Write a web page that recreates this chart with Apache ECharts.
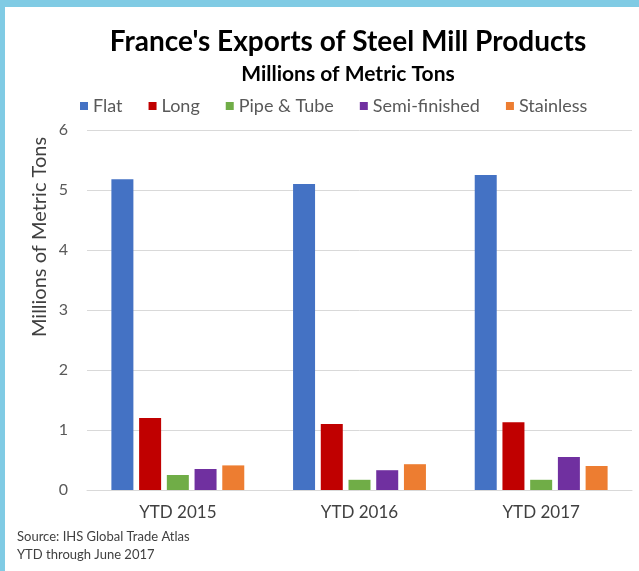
<!DOCTYPE html>
<html>
<head>
<meta charset="utf-8">
<title>France's Exports of Steel Mill Products</title>
<script src="https://cdn.jsdelivr.net/npm/echarts@6/dist/echarts.min.js"></script>
<style>
  html, body { margin: 0; padding: 0; background: #fff; }
  #charts { position: absolute; left: 0; top: 0; width: 639px; height: 571px; }
  .edge { position: absolute; background: #80cbe4; z-index: 2; }
</style>
</head>
<body>
<div id="charts"></div>
<div class="edge" style="left:0;top:0;width:639px;height:7px;"></div>
<div class="edge" style="left:0;top:0;width:5px;height:571px;"></div>
<script>
var categories = ['YTD 2015', 'YTD 2016', 'YTD 2017'];
var seriesNames = ['Flat', 'Long', 'Pipe & Tube', 'Semi-finished', 'Stainless'];
var flat = [5.18, 5.10, 5.25];
var long = [1.20, 1.10, 1.13];
var pipeTube = [0.25, 0.17, 0.17];
var semiFinished = [0.35, 0.33, 0.55];
var stainless = [0.41, 0.43, 0.40];
var colors = ['#4472c4', '#c00000', '#70ad47', '#7030a0', '#ed7d31'];
var yTicks = [0, 1, 2, 3, 4, 5, 6];

var font = 'Lato, "Open Sans", sans-serif';
var values = [flat, long, pipeTube, semiFinished, stainless];

var myChart = echarts.init(document.getElementById('charts'));
var option = {
    animation: false,
    color: colors,
    textStyle: { fontFamily: font },
    title: [
        {
            text: "France's Exports of Steel Mill Products",
            left: 343, top: 23, textAlign: 'center',
            textStyle: { fontSize: 28, fontWeight: 'bold', color: '#000', fontFamily: font }
        },
        {
            text: 'Millions of Metric Tons',
            left: 343, top: 59, textAlign: 'center',
            textStyle: { fontSize: 21, fontWeight: 'bold', color: '#000', fontFamily: font }
        }
    ],
    legend: {
        data: seriesNames,
        left: 75, top: 92,
        icon: 'rect',
        itemWidth: 8, itemHeight: 8,
        itemGap: 26, itemTextGap: 6,
        textStyle: { fontSize: 18, color: '#595959', fontFamily: font }
    },
    grid: { left: 87, right: 7, top: 130, bottom: 81 },
    xAxis: {
        type: 'category',
        data: categories,
        axisLine: { lineStyle: { color: '#d9d9d9', width: 1 } },
        axisTick: { show: false },
        axisLabel: { fontSize: 17, color: '#404040', margin: 14, fontFamily: font }
    },
    yAxis: {
        type: 'value',
        min: yTicks[0], max: yTicks[yTicks.length - 1], interval: 1,
        axisLine: { show: false },
        axisTick: { show: false },
        splitLine: { lineStyle: { color: '#d9d9d9', width: 1 } },
        axisLabel: { fontSize: 16, color: '#595959', margin: 19, fontFamily: font }
    },
    graphic: [
        {
            type: 'text', x: 40, y: 237, rotation: Math.PI / 2,
            style: {
                text: 'Millions of Metric Tons', fontSize: 20, fill: '#404040',
                fontFamily: font, align: 'center', verticalAlign: 'middle'
            }
        },
        {
            type: 'text', x: 17, y: 528,
            style: {
                text: 'Source: IHS Global Trade Atlas\nYTD through June 2017',
                fontSize: 13, lineHeight: 18, fill: '#404040', fontFamily: font
            }
        }
    ],
    series: seriesNames.map(function (name, i) {
        return {
            name: name,
            type: 'bar',
            data: values[i],
            barWidth: 22,
            barGap: '26%',
            itemStyle: { color: colors[i] }
        };
    })
};
myChart.setOption(option);
</script>
</body>
</html>
